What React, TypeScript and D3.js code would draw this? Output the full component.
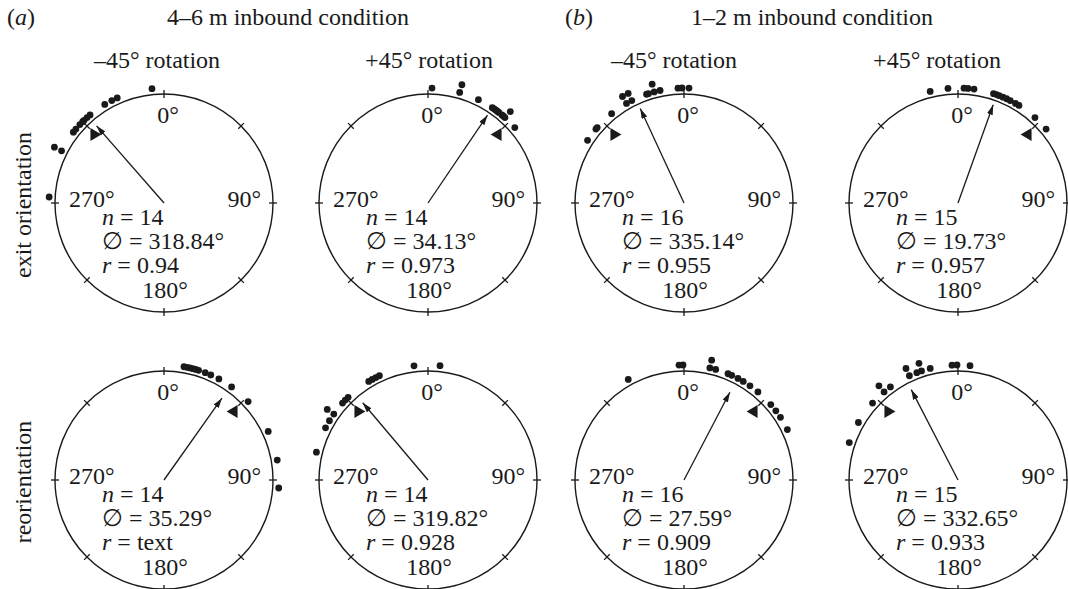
import React from "react";
import * as d3 from "d3";

// ---- data (angles in degrees) ----
const conditions = ["4–6 m inbound condition", "1–2 m inbound condition"];
const conditionTags = ["a", "b"];
const rotations = ["–45° rotation", "+45° rotation"];
const measures = ["exit orientation", "reorientation"];

const aExitMinus45 = [354, 336, 333, 329, 320, 318, 316, 315, 313, 310, 308, 297, 297, 273];
const aExitPlus45 = [2, 16, 16, 26, 34, 35, 36, 37, 38, 40, 41, 42, 42, 49];
const bExitMinus45 = [357, 359, 2.5, 341, 342, 345, 345, 348, 330, 330, 333, 333, 321, 310, 311, 303];
const bExitPlus45 = [346, 355, 3, 5, 8, 18, 19.5, 21, 23, 25, 27, 30, 32, 42, 50];
const aReorMinus45 = [10, 11.5, 13, 14.5, 16, 17.5, 21, 24, 28.5, 36, 47, 65, 80, 94];
const aReorPlus45 = [353, 6, 329, 331, 333, 335, 312, 314, 316, 305, 305, 301, 297, 284];
const bReorMinus45 = [331, 357.5, 359.5, 13, 13, 16, 22.5, 24.5, 28, 31, 35, 40, 49, 53, 57, 64];
const bReorPlus45 = [357, 359.5, 6, 335, 335, 339, 341.5, 341.5, 346, 320, 320, 324, 312, 300, 289];

const nValues = [14, 14, 16, 15, 14, 14, 16, 15];
const meanAngles = [318.84, 34.13, 335.14, 19.73, 35.29, 319.82, 27.59, 332.65];
const rValues = [0.94, 0.973, 0.955, 0.957, 0.92, 0.928, 0.909, 0.933];
const rLabels = ["0.94", "0.973", "0.955", "0.957", "text", "0.928", "0.909", "0.933"];
const expectedDirs = [315, 45, 315, 45, 45, 315, 45, 315];
const axisTicks = [0, 45, 90, 135, 180, 225, 270, 315];
const axisLabels = ["0°", "90°", "180°", "270°"];

const panelData = [aExitMinus45, aExitPlus45, bExitMinus45, bExitPlus45, aReorMinus45, aReorPlus45, bReorMinus45, bReorPlus45];

// ---- layout ----
const W = 1068;
const H = 589;
const colX = [164, 428, 684, 958];
const rowY = [203, 480];
const R = 109;
const FONT = "'Liberation Serif', 'Times New Roman', serif";
const FS = 24;
const INK = "#1a1a1a";

const angle = d3.scaleLinear().domain([0, 360]).range([0, 2 * Math.PI]);
const pt = (cx: number, cy: number, deg: number, rad: number): [number, number] => [
  cx + rad * Math.sin(angle(deg)),
  cy - rad * Math.cos(angle(deg)),
];

function Panel({ idx }: { idx: number }) {
  const cx = colX[idx % 4];
  const cy = rowY[Math.floor(idx / 4)];
  const data = panelData[idx];
  const counts: Record<string, number> = {};
  const dots = data.map((a) => {
    const k = String(a);
    const level = counts[k] || 0;
    counts[k] = level + 1;
    return pt(cx, cy, a, R + 6 + level * 8);
  });
  const tip = pt(cx, cy, meanAngles[idx], rValues[idx] * R);
  const exp = expectedDirs[idx];
  const [tx, ty] = pt(cx, cy, exp, R - 12);
  const dir = exp < 180 ? -1 : 1; // left-pointing at 45°, right-pointing at 315°
  const tri = `M${tx + dir * 6},${ty} L${tx - dir * 5},${ty - 6.5} L${tx - dir * 5},${ty + 6.5} Z`;
  return (
    <g>
      <circle cx={cx} cy={cy} r={R} fill="none" stroke={INK} strokeWidth={1.4} />
      {axisTicks.map((t) => {
        const [x1, y1] = pt(cx, cy, t, R - 4);
        const [x2, y2] = pt(cx, cy, t, R + 4);
        return <line key={t} x1={x1} y1={y1} x2={x2} y2={y2} stroke={INK} strokeWidth={1.3} />;
      })}
      <text x={cx + 4} y={cy - 80} textAnchor="middle">{axisLabels[0]}</text>
      <text x={cx + 97} y={cy + 4} textAnchor="end">{axisLabels[1]}</text>
      <text x={cx + 1} y={cy + 95} textAnchor="middle">{axisLabels[2]}</text>
      <text x={cx - 95} y={cy + 4} textAnchor="start">{axisLabels[3]}</text>
      <line x1={cx} y1={cy} x2={tip[0]} y2={tip[1]} stroke={INK} strokeWidth={1.3} markerEnd="url(#arrowhead)" />
      <path d={tri} fill={INK} />
      {dots.map(([x, y], i) => (
        <circle key={i} cx={x} cy={y} r={3.4} fill={INK} />
      ))}
      <text x={cx - 62} y={cy + 22}>
        <tspan fontStyle="italic">n</tspan> = {nValues[idx]}
      </text>
      <text x={cx - 62} y={cy + 46}>∅ = {meanAngles[idx].toFixed(2)}°</text>
      <text x={cx - 62} y={cy + 70}>
        <tspan fontStyle="italic">r</tspan> = {rLabels[idx]}
      </text>
    </g>
  );
}

export default function App() {
  const headerX = [288, 812];
  const tagX = [7, 565];
  const rotX = [157, 429, 674, 937];
  return (
    <svg
      width={W}
      height={H}
      viewBox={`0 0 ${W} ${H}`}
      style={{ position: "absolute", left: 0, top: 0, background: "#fff" }}
      fontFamily={FONT}
      fontSize={FS}
      fill={INK}
    >
      <defs>
        <marker id="arrowhead" viewBox="0 0 10 6" refX={10} refY={3} markerWidth={10} markerHeight={6} markerUnits="userSpaceOnUse" orient="auto">
          <path d="M0,0 L10,3 L0,6 Z" fill={INK} />
        </marker>
      </defs>
      <rect x={0} y={0} width={W} height={H} fill="#fff" />
      {conditions.map((c, i) => (
        <g key={c}>
          <text x={tagX[i]} y={25}>
            (<tspan fontStyle="italic">{conditionTags[i]}</tspan>)
          </text>
          <text x={headerX[i]} y={25} textAnchor="middle">{c}</text>
        </g>
      ))}
      {rotX.map((x, i) => (
        <text key={i} x={x} y={68} textAnchor="middle">{rotations[i % 2]}</text>
      ))}
      {measures.map((m, i) => (
        <text key={m} transform={`translate(31,${rowY[i] + 2}) rotate(-90)`} textAnchor="middle">{m}</text>
      ))}
      {panelData.map((_, i) => (
        <Panel key={i} idx={i} />
      ))}
    </svg>
  );
}
